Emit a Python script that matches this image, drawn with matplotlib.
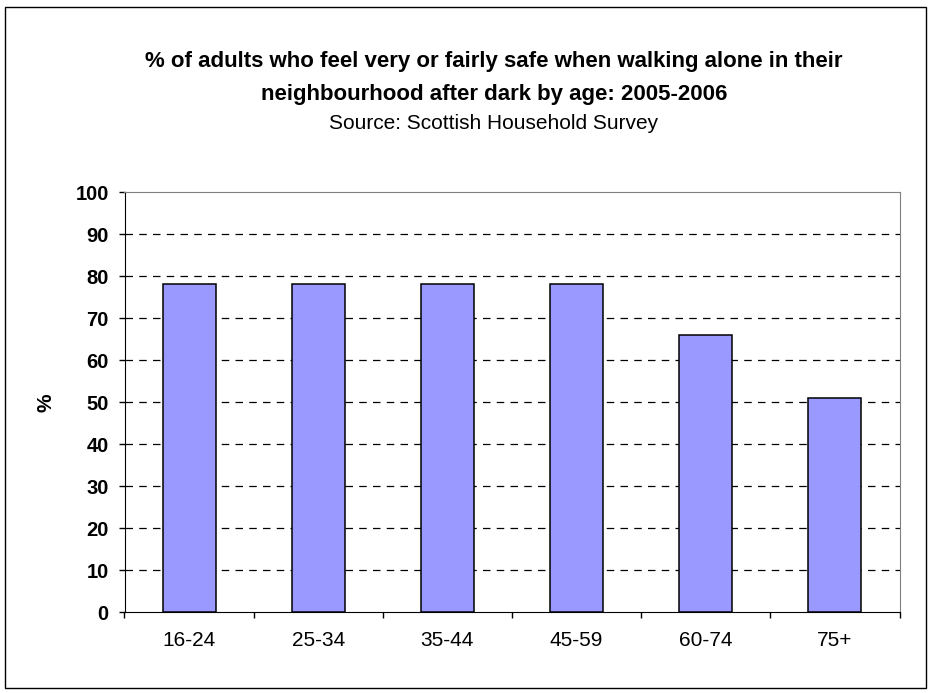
import matplotlib
matplotlib.use("Agg")
import matplotlib.pyplot as plt
from matplotlib.patches import Rectangle

categories = ["16-24", "25-34", "35-44", "45-59", "60-74", "75+"]
values = [78, 78, 78, 78, 66, 51]
yticks = list(range(0, 101, 10))

title_line1 = "% of adults who feel very or fairly safe when walking alone in their"
title_line2 = "neighbourhood after dark by age: 2005-2006"
subtitle = "Source: Scottish Household Survey"
y_label = "%"

plt.rcParams['font.family'] = ['Liberation Sans', 'DejaVu Sans']

W, H = 932, 693
fig = plt.figure(figsize=(W / 100, H / 100), dpi=100)
fig.patches.append(Rectangle((5/W, 1-688/H), 921/W, 681/H, transform=fig.transFigure,
                             fill=False, edgecolor='black', linewidth=1))
ax = fig.add_axes([124.5/W, 1-612/H, 775/W, 420/H])

x = list(range(len(categories)))
ax.bar(x, values, width=0.41, color='#9999FF', edgecolor='black', linewidth=1.1, zorder=3)

ax.set_xlim(-0.5, len(categories) - 0.5)
ax.set_ylim(0, 100)
ax.set_yticks(yticks)
ax.set_yticklabels([str(t) for t in yticks], fontsize=14.5, fontweight='bold')
ax.set_xticks(x)
ax.set_xticklabels(categories, fontsize=15)
ax.tick_params(axis='x', which='major', length=0, pad=14)
ax.set_xticks([i - 0.5 for i in range(len(categories) + 1)], minor=True)
ax.tick_params(axis='x', which='minor', length=4.3, direction='out', width=1)
ax.tick_params(axis='y', length=4.3, direction='out', width=1, pad=7)

for t in yticks[1:-1]:
    ax.axhline(t, color='black', linestyle=(0, (6, 5)), linewidth=0.9, zorder=1)

ax.spines['top'].set_color('#808080')
ax.spines['right'].set_color('#808080')
ax.spines['left'].set_color('black')
ax.spines['bottom'].set_color('black')

fig.text(46/W, 1-403/H, y_label, rotation=90, ha='center', va='center',
         fontsize=15, fontweight='bold')

cx = 494 / W
fig.text(cx, 1-67/H, title_line1, ha='center', va='baseline', fontsize=16, fontweight='bold')
fig.text(cx, 1-100/H, title_line2, ha='center', va='baseline', fontsize=16, fontweight='bold')
fig.text(cx, 1-129/H, subtitle, ha='center', va='baseline', fontsize=15)

fig.savefig("out.png", dpi=100)
